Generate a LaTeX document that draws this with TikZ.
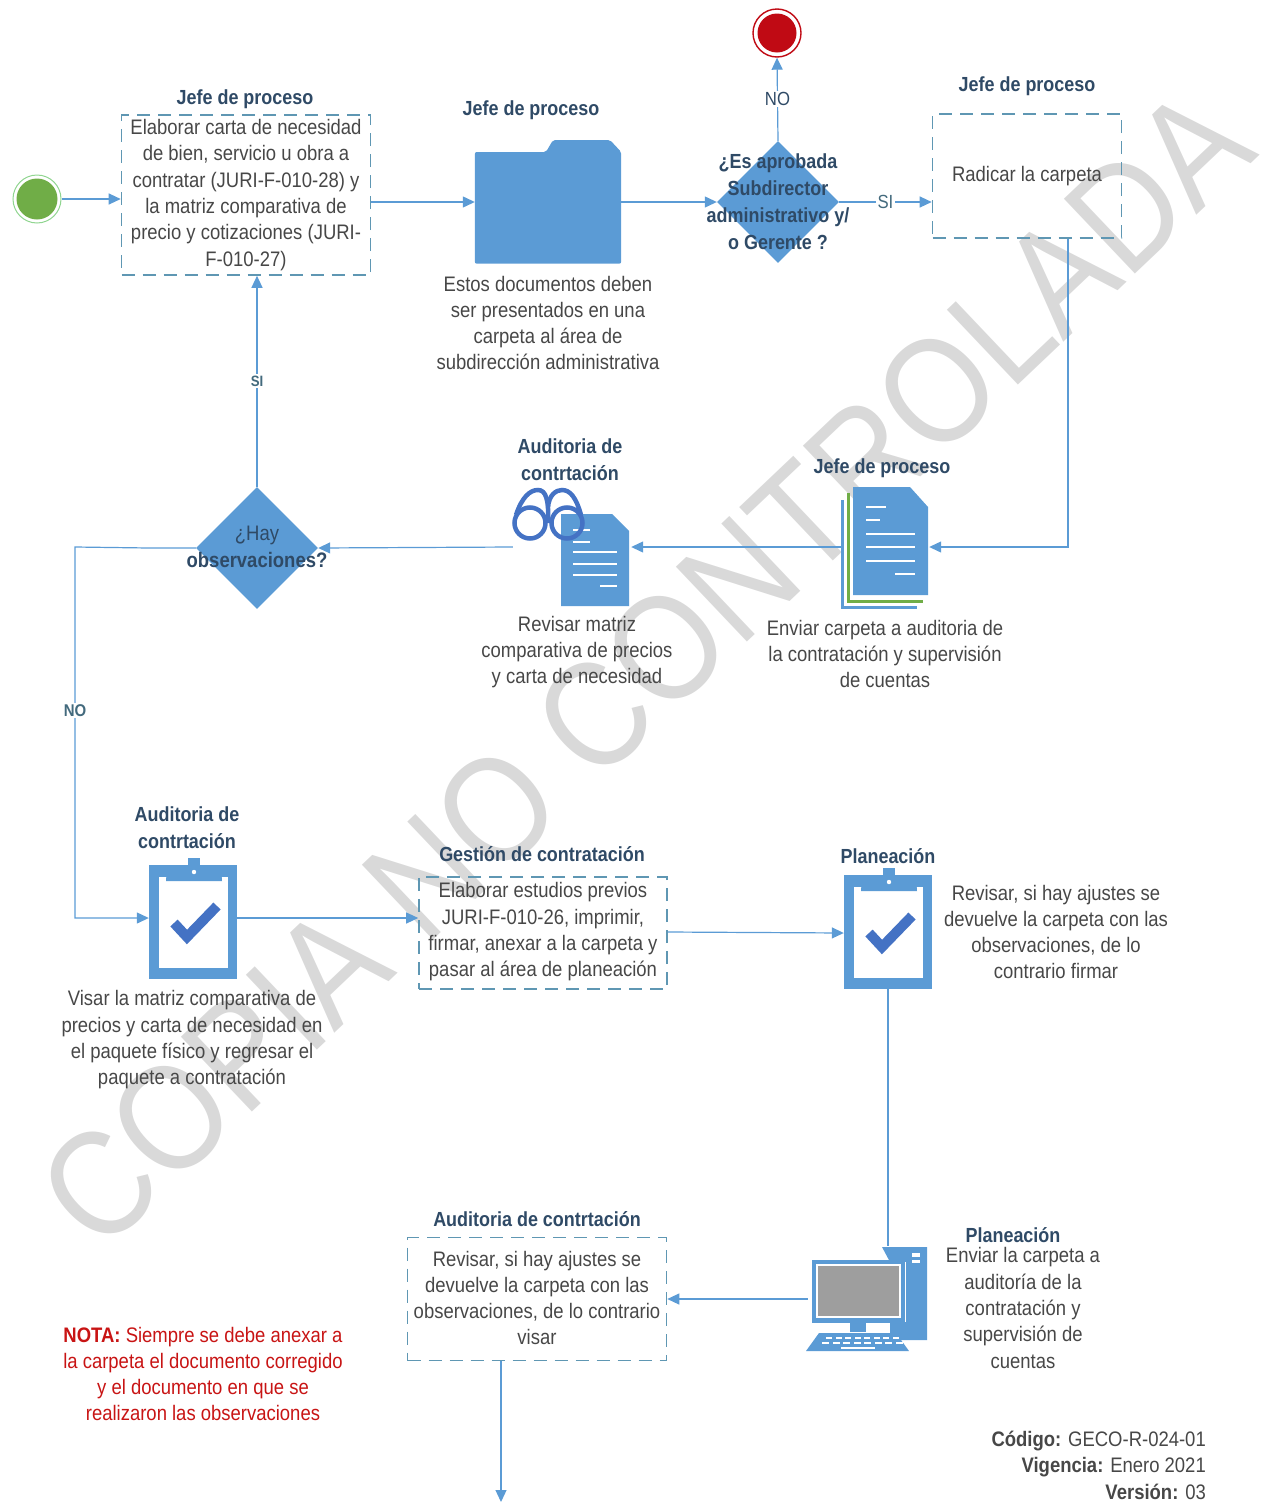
\documentclass[tikz,border=0pt]{standalone}
\usepackage{fontspec}
\setmainfont[FakeStretch=0.88]{Liberation Sans}
\usetikzlibrary{shapes.geometric,arrows.meta,calc}
\definecolor{bl}{HTML}{5B9BD5}
\definecolor{lineb}{HTML}{5B9BD5}
\definecolor{dbox}{HTML}{5F97B3}
\definecolor{royal}{HTML}{4472C4}
\definecolor{head}{HTML}{2F4A66}
\definecolor{body}{HTML}{474747}
\definecolor{wm}{HTML}{D9D9D9}
\tikzset{
 conn/.style={draw=lineb,line width=1.2pt,-{Triangle[length=12pt,width=11pt]}},
 connplain/.style={draw=lineb,line width=1.2pt},
 dashbox/.style={draw=dbox,line width=1.6pt,dash pattern=on 13pt off 8pt,minimum width=#1,inner sep=0pt},
 txt/.style={align=center,text=body,font=\fontsize{21}{26.3}\selectfont,inner sep=0pt},
 hd/.style={align=center,text=head,font=\fontsize{20.4}{27}\selectfont\bfseries,inner sep=0pt},
 lab/.style={fill=white,text=dbox!70!black,inner sep=1.5pt,font=\fontsize{19}{22}\selectfont},
 dec/.style={diamond,fill=bl,minimum width=122pt,minimum height=122pt,inner sep=0pt},
 icon/.style={inner sep=0pt,minimum width=#1},
 wl/.style={draw=white,line width=1.8pt},
}
\begin{document}
\begin{tikzpicture}[x=1pt,y=-1pt]
\useasboundingbox (0,0) rectangle (1280,1502);
% watermark
\node[rotate=43.5,text=wm,inner sep=0pt,font=\fontsize{150}{150}\selectfont] (wmark) at (645,668) {COPIA NO CONTROLADA};

% start / end
\node[circle,draw=green!45!gray!60,line width=1pt,minimum size=48pt,inner sep=0pt] (start) at (37,199) {};
\fill[fill=black!0!green!45!black!0,fill=green!60!black!0] (start) circle (0pt);
\fill[color={rgb,255:red,112;green,173;blue,71}] (start.center) circle (20.5);
\node[circle,draw={rgb,255:red,192;green,10;blue,20},line width=1.4pt,minimum size=48pt,inner sep=0pt] (endc) at (777,33) {};
\fill[color={rgb,255:red,192;green,10;blue,20}] (endc.center) circle (19.5);

% box 1
\node[dashbox=249pt,minimum height=160pt] (b1) at (246,195) {};
\node[txt] (b1t) at (246,195) {Elaborar carta de necesidad\\de bien, servicio u obra a\\contratar (JURI-F-010-28) y\\la matriz comparativa de\\precio y cotizaciones (JURI-\\F-010-27)};
\node[hd] (h1) at (245,99) {Jefe de proceso};

% folder
\node[icon=146pt,minimum height=123pt] (fold) at (548,202) {};
\fill[bl,rounded corners=2pt] (fold.south west) -- (fold.west |- 0,152) -- (546,152) -- (553,140) -- (610,140) -- (fold.east |- 0,152) -- (fold.south east) -- cycle;
\node[hd] (h2) at (531,110) {Jefe de proceso};
\node[txt] (t2) at (548,323) {Estos documentos deben\\ser presentados en una\\carpeta al área de\\subdirección administrativa};

% decision 1
\node[dec] (d1) at (778,202) {};
\node[hd,text=head] (d1t) at (778,202) {¿Es aprobada\\Subdirector\\administrativo y/\\o Gerente ?};

% box 2
\node[dashbox=189pt,minimum height=124pt] (b2) at (1027,176) {};
\node[txt] (b2t) at (1027,176) {Radicar la carpeta};
\node[hd] (h3) at (1027,86) {Jefe de proceso};

% docs
\node[icon=88pt,minimum height=122pt] (docs) at (885,547) {};
\draw[bl,line width=3pt] (842,500) -- (842,607) -- (917,607);
\draw[color={rgb,255:red,112;green,173;blue,71},line width=3pt] (848,493) -- (848,601) -- (923,601);
\fill[bl] (853,487) -- (910,487) -- (928,507) -- (928,595) -- (853,595) -- cycle;
\foreach \ya/\xa/\xb in {507/866/886,520/866/880,534/866/915,547/866/915,561/866/915,574/895/915} \draw[wl] (\xa,\ya) -- (\xb,\ya);
\node[hd] (h4) at (882,468) {Jefe de proceso};
\node[txt] (t4) at (885,654) {Enviar carpeta a auditoria de\\la contratación y supervisión\\de cuentas};

% audit doc
\node[icon=118pt,minimum height=120pt] (aud) at (572,547) {};
\fill[bl] (561,514) -- (612,514) -- (629,531) -- (629,606) -- (561,606) -- cycle;
\foreach \ya/\xa/\xb in {530/573/590,542/573/590,552/573/617,564/573/617,575/573/617,586/600/617} \draw[wl] (\xa,\ya) -- (\xb,\ya);
\draw[royal,line width=4.5pt] (530,523) circle (15.5) (567,523) circle (15.5);
\draw[royal,line width=4.5pt] (516,515) .. controls (522,497) and (530,490) .. (538,490) .. controls (546,490) and (549,500) .. (548,523);
\draw[royal,line width=4.5pt] (548,507) .. controls (549,495) and (556,490) .. (562,490) .. controls (570,490) and (576,497) .. (581,515);
\node[hd] (h5) at (570,460) {Auditoria de\\contrtación};
\node[txt] (t5) at (577,652) {Revisar matriz\\comparativa de precios\\y carta de necesidad};

% decision 2
\node[dec] (d2) at (257,548) {};
\node[txt,text=head] (d2t) at (257,547) {¿Hay\\\textbf{observaciones?}};

% clipboard 1
\node[icon=88pt,minimum height=114pt] (c1) at (193,922) {};
\fill[bl] (c1.south west) rectangle (c1.north east);
\fill[white] (159,877) rectangle (228,968);
\fill[bl] (188,858) rectangle (200,868);
\fill[bl] (166,881) .. controls (166,870) and (172,866) .. (180,866) -- (208,866) .. controls (216,866) and (222,870) .. (222,881) -- cycle;
\fill[white] (194,872) circle (2.2);
\draw[royal,line width=10pt] (174,923) -- (187,937) -- (217,906);
\node[hd] (h6) at (187,828) {Auditoria de\\contrtación};
\node[txt] (t6) at (192,1040) {Visar la matriz comparativa de\\precios y carta de necesidad en\\el paquete físico  y regresar el\\paquete a contratación};

% box 3
\node[dashbox=248pt,minimum height=112pt] (b3) at (543,933) {};
\node[txt] (b3t) at (543,932) {Elaborar estudios previos\\JURI-F-010-26, imprimir,\\firmar, anexar a la carpeta y\\pasar al área de planeación};
\node[hd] (h7) at (542,854) {Gestión de contratación};

% clipboard 2
\node[icon=88pt,minimum height=114pt] (c2) at (888,932) {};
\fill[bl] (c2.south west) rectangle (c2.north east);
\fill[white] (854,887) rectangle (923,978);
\fill[bl] (883,868) rectangle (895,878);
\fill[bl] (861,891) .. controls (861,880) and (867,876) .. (875,876) -- (903,876) .. controls (911,876) and (917,880) .. (917,891) -- cycle;
\fill[white] (889,882) circle (2.2);
\draw[royal,line width=10pt] (869,933) -- (882,947) -- (912,916);
\node[hd] (h8) at (888,856) {Planeación};
\node[txt] (t8) at (1056,932) {Revisar, si hay ajustes se\\devuelve la carpeta con las\\observaciones, de lo\\contrario firmar};

% computer
\node[icon=120pt,minimum height=105pt] (pc) at (868,1299) {};
\fill[bl] (882,1247) -- (927,1247) -- (927,1340) -- (890,1340) -- (890,1262) -- cycle;
\fill[white] (912,1253) rectangle (920,1257);
\fill[white] (912,1260) rectangle (920,1263);
\fill[bl] (812,1260) rectangle (907,1323);
\draw[white,line width=.8pt] (905,1262) -- (905,1322);
\fill[white] (816,1264) rectangle (901,1318);
\fill[black!38] (818,1266) rectangle (899,1316);
\fill[bl] (850,1323) rectangle (866,1332);
\fill[bl] (819,1333) -- (896,1333) -- (909,1351) -- (806,1351) -- cycle;
\foreach \k in {0,...,7} {
 \fill[white] (826+\k*9.5,1337) rectangle ++(6,2);
 \fill[white] (822+\k*10.5,1342) rectangle ++(7,2);}
\fill[white] (841,1346.5) rectangle (875,1349);
\node[hd] (h9) at (1013,1235) {Planeación};
\node[txt] (t9) at (1023,1308) {Enviar la carpeta a\\auditoría de la\\contratación y\\supervisión de\\cuentas};

% box 4
\node[dashbox=259pt,minimum height=123pt] (b4) at (537,1299) {};
\node[txt] (b4t) at (537,1298) {Revisar, si hay ajustes se\\devuelve la carpeta con las\\observaciones, de lo contrario\\visar};
\node[hd] (h10) at (537,1219) {Auditoria de contrtación};

% note
\node[txt,text={rgb,255:red,200;green,20;blue,20}] (note) at (203,1374) {\textbf{NOTA:} Siempre se debe anexar a\\la carpeta el documento corregido\\y el documento en que se\\realizaron las observaciones};

% code
\node[txt,align=right,anchor=north east] (code) at (1206,1431) {\textbf{Código:} GECO-R-024-01\\\textbf{Vigencia:} Enero 2021\\\textbf{Versión:} 03};

% connectors
\coordinate (outb) at (501,1502);
\draw[conn] (start.east) -- (b1.west |- start.east);
\draw[conn] (b1.east |- fold.west) -- (fold.west);
\draw[conn] (fold.east) -- (d1.west);
\draw[conn] (d1.north) -- node[lab,pos=.5,text=head] (ln1) {NO} (endc.south);
\draw[conn] (d1.east) -- node[lab,pos=.5] (ls1) {SI} (b2.west |- d1.east);
\draw[conn] (b2.south -| 1068,0) -- (1068,547) -- (docs.east);
\draw[conn] (docs.west) -- (aud.east);
\draw[conn] (aud.west) -- (d2.east);
\draw[conn] (d2.north) -- node[lab,pos=.5,font=\fontsize{15}{18}\selectfont\bfseries] (ls2) {SI} (b1.south -| d2.north);
\draw[conn] (d2.west) -- (c1.west |- d2.west) -- (75,547) -- node[lab,pos=.44,font=\fontsize{17}{20}\selectfont\bfseries] (ln2) {NO} (75,918) -- (c1.west |- 0,918);
\draw[conn] (c1.east |- 0,918) -- (b3.west |- 0,918);
\draw[conn] (b3.east |- c2.west) -- (c2.west |- b3.east) ;
\draw[connplain] (c2.south) -- (c2.south |- pc.north);
\draw[conn] (pc.west) -- (b4.east |- pc.west);
\draw[conn] (b4.south -| outb) -- (outb);
\end{tikzpicture}
\end{document}
